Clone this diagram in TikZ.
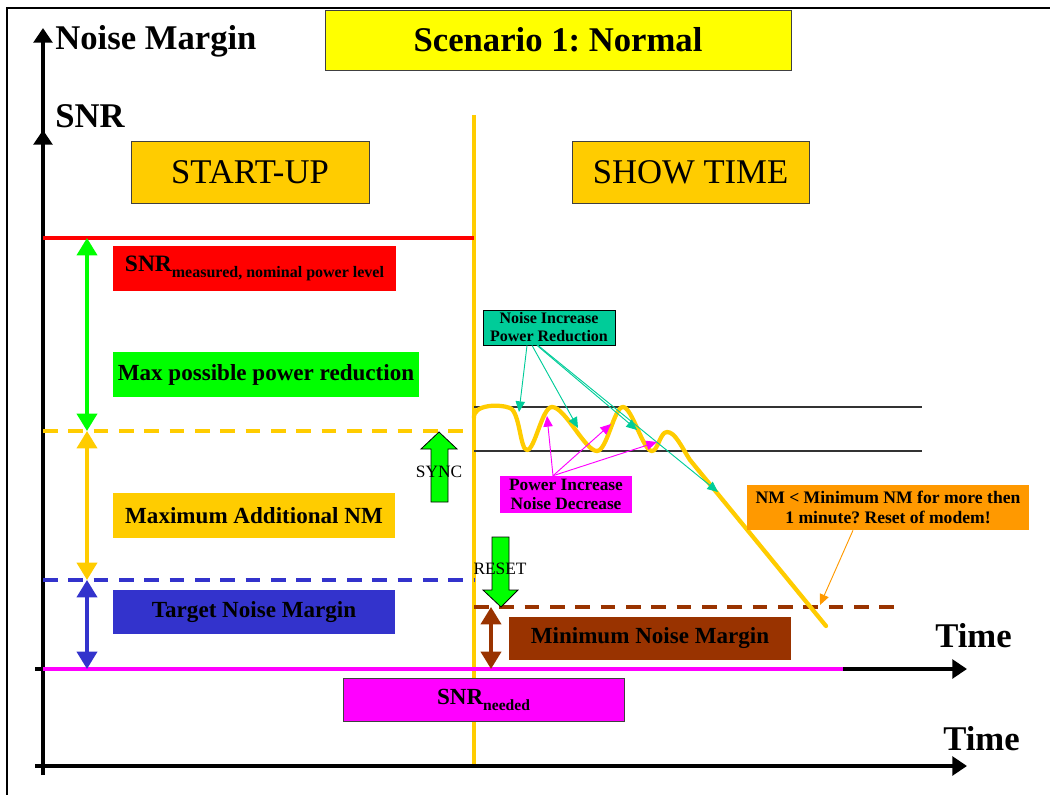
\documentclass[tikz,border=0pt]{standalone}
\usepackage{fontspec}
\setmainfont{Liberation Serif}
\usetikzlibrary{arrows.meta,calc}
\definecolor{ygold}{HTML}{FFCC00}
\definecolor{ygreen}{HTML}{00FF00}
\definecolor{yred}{HTML}{FF0000}
\definecolor{yblue}{HTML}{3333CC}
\definecolor{ybrown}{HTML}{993300}
\definecolor{ymag}{HTML}{FF00FF}
\definecolor{yteal}{HTML}{00CC99}
\definecolor{yorange}{HTML}{FF9900}
\definecolor{yyellow}{HTML}{FFFF00}
\frenchspacing
\tikzset{
  wh/.style 2 args={minimum width=#1*0.75pt, minimum height=#2*0.75pt, inner sep=0pt},
  lbl/.style={font=\bfseries\fontsize{17.3}{20}\selectfont, align=center},
  edgebox/.style={draw=black!75, line width=0.7pt},
  big/.style={font=\bfseries\fontsize{26}{30}\selectfont, inner sep=0pt},
  phase/.style={fill=ygold, edgebox, font=\fontsize{26}{30}\selectfont},
  axis/.style={line width=2.8pt, -{Triangle[width=14pt,length=11pt]}},
  dbl/.style={line width=2.8pt, {Triangle[width=15pt,length=13pt]}-{Triangle[width=15pt,length=13pt]}},
  level/.style={line width=2.8pt},
  dash level/.style={line width=2.8pt, dash pattern=on 11pt off 8pt},
  thin arrow/.style={line width=0.7pt, -{Triangle[width=7pt,length=8pt]}},
  blockarrow/.style={fill=ygreen, draw=black, line width=0.6pt},
  small/.style={font=\fontsize{13}{15}\selectfont, inner sep=0pt}
}
\begin{document}
\begin{tikzpicture}[x=0.75pt,y=-0.75pt]
\useasboundingbox (0,0) rectangle (1050,795);
% frame
\draw[line width=0.8pt] (7,795) -- (7,8) -- (1050,8);
% vertical phase separator
\draw[ygold, line width=2.6pt] (474,115) -- (474,765);
% axes
\coordinate (vbot) at (43,775);
\coordinate (vtop) at (43,28);
\coordinate (vmid) at (43,130);
\coordinate (vmid0) at (43,150);
\draw[axis] (vbot) -- (vtop);
\draw[axis] (vmid0) -- (vmid);
\coordinate (h1s) at (35,669); \coordinate (h1e) at (967,669);
\coordinate (h2s) at (35,766); \coordinate (h2e) at (967,766);
\draw[axis] (h1s) -- (h1e);
\draw[axis] (h2s) -- (h2e);
% axis labels
\node[big, anchor=base west] (nmlab) at (55,50) {Noise Margin};
\node[big, anchor=base west] (snrlab) at (55,128) {SNR};
\node[big, anchor=base west] (time1) at (935,647) {Time};
\node[big, anchor=base west] (time2) at (943,750) {Time};
% title
\node[fill=yyellow, edgebox, wh={466}{60}, font=\bfseries\fontsize{26}{30}\selectfont] (title) at (558,40) {Scenario 1: Normal};
\node[phase, wh={238}{62}] (startup) at (250,172) {START-UP};
\node[phase, wh={237}{62}] (showtime) at (690.5,172) {SHOW TIME};
% levels
\coordinate (r1) at (43,238); \coordinate (r2) at (474,238);
\draw[yred, level] (r1) -- (r2);
\coordinate (y1) at (43,431); \coordinate (y2) at (474,431);
\draw[ygold, dash level] (y1) -- (y2);
\coordinate (b1) at (43,580); \coordinate (b2) at (474,580);
\draw[yblue, dash level] (b1) -- (b2);
\coordinate (m1) at (43,669); \coordinate (m2) at (843,669);
\draw[ymag, level] (m1) -- (m2);
\coordinate (br1) at (474,607); \coordinate (br2) at (903,607);
\draw[ybrown, dash level] (br1) -- (br2);
\coordinate (g1) at (474,407); \coordinate (g2) at (922,407);
\coordinate (g3) at (474,451); \coordinate (g4) at (922,451);
\draw[black!80, line width=0.8pt] (g1) -- (g2);
\draw[black!80, line width=0.8pt] (g3) -- (g4);
% double arrows
\coordinate (da1) at (87,238); \coordinate (da2) at (87,431);
\coordinate (da3) at (87,580); \coordinate (da4) at (87,669);
\coordinate (da5) at (491,607); \coordinate (da6) at (491,669);
\draw[ygreen, dbl] (da1) -- (da2);
\draw[ygold, dbl] (da2) -- (da3);
\draw[yblue, dbl] (da3) -- (da4);
\draw[ybrown, dbl] (da5) -- (da6);
% labels
\node[fill=yred, wh={283}{45}] (snrm) at (254.5,268.5) {\bfseries{\fontsize{17.6}{20}\selectfont SNR}\raisebox{-4.5pt}{\fontsize{12}{14}\selectfont measured, nominal power level}};
\node[fill=ygreen, wh={306}{45}, lbl] (maxp) at (266,374.5) {Max possible power reduction};
\node[fill=ygold, wh={282}{45}, lbl] (maxnm) at (254,515.5) {Maximum Additional NM};
\node[fill=yblue, wh={282}{44}, lbl] (target) at (254,612) {Target Noise Margin};
\node[fill=ybrown, wh={282}{43}, lbl] (minnm) at (650,638.5) {Minimum Noise Margin};
\node[fill=ymag, edgebox, wh={281}{43}] (snrn) at (483.5,699.5) {\bfseries{\fontsize{17.3}{20}\selectfont SNR}\raisebox{-4.5pt}{\fontsize{11.7}{14}\selectfont needed}};
% block arrows
\draw[blockarrow] (431,502) -- (431,449) -- (421,449) -- (439,432) -- (457,449) -- (448,449) -- (448,502) -- cycle;
\draw[blockarrow] (492,537) -- (509,537) -- (509,590) -- (518,590) -- (501,607) -- (483,590) -- (492,590) -- cycle;
\node[small] (sync) at (439,472) {SYNC};
\node[small] (reset) at (500,569) {RESET};
% wavy SNR curve
\draw[ygold, line width=3.2pt, line cap=round, line join=round]
  (474,418) .. controls (473,404) and (500,404) .. (510,408)
  .. controls (520,412) and (520,450) .. (527,450)
  .. controls (535,450) and (542,407) .. (552,407)
  .. controls (565,407) and (585,451) .. (597,451)
  .. controls (607,451) and (614,407) .. (623,407)
  .. controls (632,407) and (643,451) .. (652,451)
  .. controls (658,451) and (660,432) .. (667,432)
  .. controls (675,432) and (681,446) .. (690,460)
  -- (826,626);
% callout: noise increase
\node[fill=yteal, draw=black, line width=0.6pt, wh={132}{35}, font=\bfseries\fontsize{12}{13.5}\selectfont, align=center] (nib) at (549,327.5) {Noise Increase\\Power Reduction};
\coordinate (nt1) at (519,412);
\coordinate (nt2) at (578,428);
\coordinate (nt3) at (637,430);
\coordinate (nt4) at (718,492);
\draw[yteal, thin arrow] ($(nib.south)+(-22,0)$) -- (nt1);
\draw[yteal, thin arrow] ($(nib.south)+(-17,0)$) -- (nt2);
\draw[yteal, thin arrow] ($(nib.south)+(-12,0)$) -- (nt3);
\draw[yteal, thin arrow] ($(nib.south)+(-11,0)$) -- (nt4);
% callout: power increase
\node[fill=ymag, wh={132}{37}, font=\bfseries\fontsize{13}{14.5}\selectfont, align=center] (pib) at (566,494.5) {Power Increase\\Noise Decrease};
\coordinate (pt1) at (547,416);
\coordinate (pt2) at (611,424);
\coordinate (pt3) at (657,442);
\draw[ymag, thin arrow] ($(pib.north)+(-13,0)$) -- (pt1);
\draw[ymag, thin arrow] ($(pib.north)+(-13,0)$) -- (pt2);
\draw[ymag, thin arrow] ($(pib.north)+(-13,0)$) -- (pt3);
% callout: reset
\node[fill=yorange, wh={282}{45}, font=\bfseries\fontsize{13.2}{15.5}\selectfont, align=center] (nmb) at (888,507.5) {NM < Minimum NM for more then\\1 minute? Reset of modem!};
\coordinate (ot) at (820,605);
\draw[yorange, thin arrow] ($(nmb.south)+(-35,0)$) -- (ot);
\end{tikzpicture}
\end{document}
